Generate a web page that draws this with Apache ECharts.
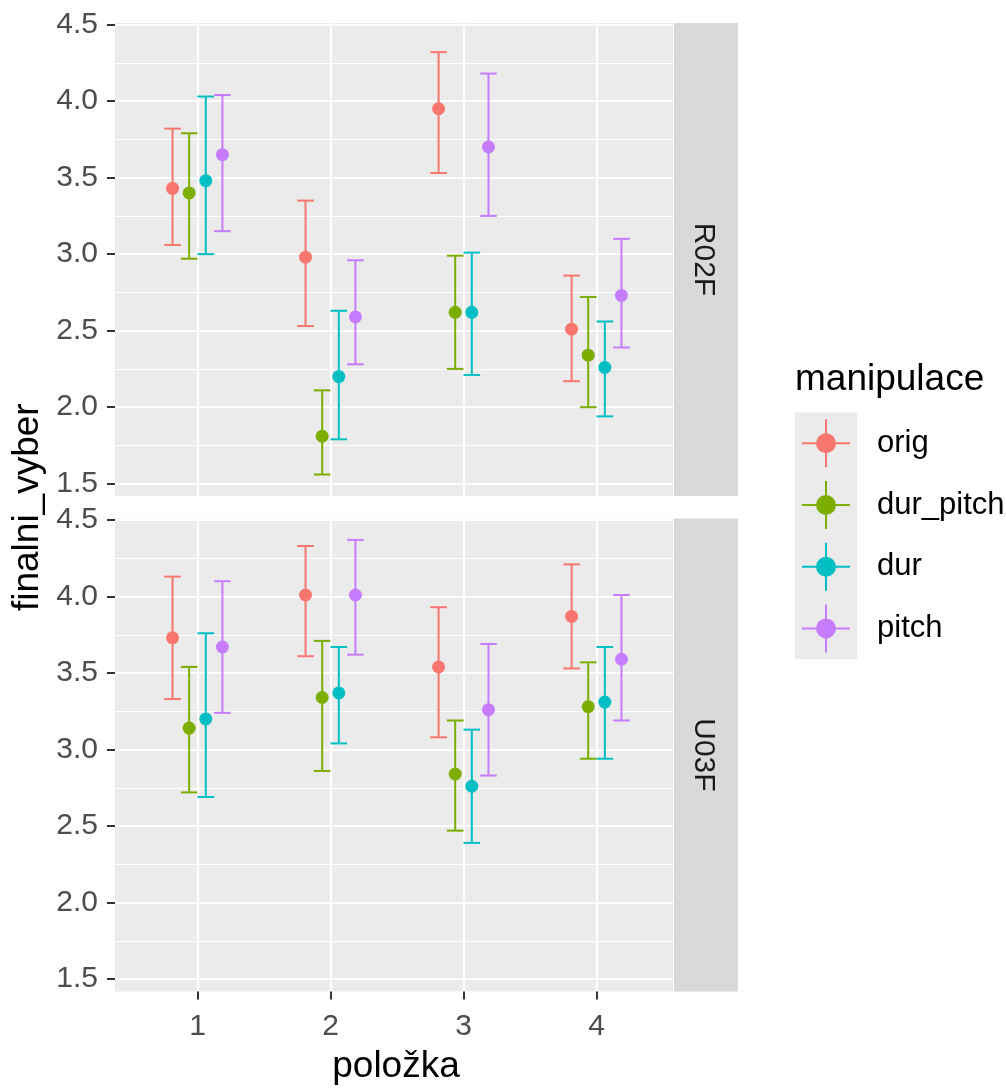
<!DOCTYPE html>
<html>
<head>
<meta charset="utf-8">
<title>finalni_vyber podle položky</title>
<script src="https://cdn.jsdelivr.net/npm/echarts@6/dist/echarts.min.js"></script>
<style>
  html, body { margin: 0; padding: 0; background: #ffffff; }
  #chart { width: 1006px; height: 1088px; }
</style>
</head>
<body>
<div id="chart"></div>
<script>
// ---- data ---------------------------------------------------------------
const categories = [1, 2, 3, 4];
const groups = ['orig', 'dur_pitch', 'dur', 'pitch'];
const facets = ['R02F', 'U03F'];
const yTicks = [1.5, 2.0, 2.5, 3.0, 3.5, 4.0, 4.5];

// rows follow `groups`, columns follow `categories`
const r02fMean = [
  [3.43, 2.98, 3.95, 2.51],
  [3.40, 1.81, 2.62, 2.34],
  [3.48, 2.20, 2.62, 2.26],
  [3.65, 2.59, 3.70, 2.73]
];
const r02fLow = [
  [3.06, 2.53, 3.53, 2.17],
  [2.97, 1.56, 2.25, 2.00],
  [3.00, 1.79, 2.21, 1.94],
  [3.15, 2.28, 3.25, 2.39]
];
const r02fHigh = [
  [3.82, 3.35, 4.32, 2.86],
  [3.79, 2.11, 2.99, 2.72],
  [4.03, 2.63, 3.01, 2.56],
  [4.04, 2.96, 4.18, 3.10]
];

const u03fMean = [
  [3.73, 4.01, 3.54, 3.87],
  [3.14, 3.34, 2.84, 3.28],
  [3.20, 3.37, 2.76, 3.31],
  [3.67, 4.01, 3.26, 3.59]
];
const u03fLow = [
  [3.33, 3.61, 3.08, 3.53],
  [2.72, 2.86, 2.47, 2.94],
  [2.69, 3.04, 2.39, 2.94],
  [3.24, 3.62, 2.83, 3.19]
];
const u03fHigh = [
  [4.13, 4.33, 3.93, 4.21],
  [3.54, 3.71, 3.19, 3.57],
  [3.76, 3.67, 3.13, 3.67],
  [4.10, 4.37, 3.69, 4.01]
];

// ---- styling & layout ------------------------------------------------------
const groupColors = ['#F8766D', '#7CAE00', '#00BFC4', '#C77CFF'];
const FONT = '"Liberation Sans", Arial, Helvetica, sans-serif';
const PANEL_BG = '#EBEBEB';
const STRIP_BG = '#D9D9D9';
const PANEL_LEFT = 115;
const PANEL_WIDTH = 558;
const PANEL_HEIGHT = 473;
const PANEL_TOPS = [23, 518.4];
const STRIP_GAP = 1;
const STRIP_WIDTH = 64;
const DODGE_WIDTH = 0.5;
const CAP_WIDTH = 0.125;
const POINT_RADIUS = 6.5;
const LINE_WIDTH = 2;
const TICK_FONT = 30;
const TITLE_FONT = 37;
const LEGEND_FONT = 31;

const panels = [
  { mean: r02fMean, low: r02fLow, high: r02fHigh },
  { mean: u03fMean, low: u03fLow, high: u03fHigh }
];

// shared y scale with a 5% margin on both sides (fixed scales across facets)
const allLow = panels.flatMap(p => p.low.flat());
const allHigh = panels.flatMap(p => p.high.flat());
const dataMin = Math.min(...allLow);
const dataMax = Math.max(...allHigh);
const pad = (dataMax - dataMin) * 0.05;
const yMin = dataMin - pad;
const yMax = dataMax + pad;

// discrete x scale with some room on both sides of the outer categories
const xMin = categories[0] - 0.62;
const xMax = categories[categories.length - 1] + 0.575;

// point-range mark: vertical bar with caps and a dot at the mean
function renderPointRange(params, api) {
  const x = api.value(0);
  const mid = api.coord([x, api.value(1)]);
  const lo = api.coord([x, api.value(2)]);
  const hi = api.coord([x, api.value(3)]);
  const half = api.size([CAP_WIDTH, 0])[0] / 2;
  const color = api.visual('color');
  const stroke = { stroke: color, lineWidth: LINE_WIDTH, fill: null };
  return {
    type: 'group',
    children: [
      { type: 'line', shape: { x1: hi[0], y1: hi[1], x2: lo[0], y2: lo[1] }, style: stroke },
      { type: 'line', shape: { x1: hi[0] - half, y1: hi[1], x2: hi[0] + half, y2: hi[1] }, style: stroke },
      { type: 'line', shape: { x1: lo[0] - half, y1: lo[1], x2: lo[0] + half, y2: lo[1] }, style: stroke },
      { type: 'circle', shape: { cx: mid[0], cy: mid[1], r: POINT_RADIUS }, style: { fill: color } }
    ]
  };
}

const grids = [];
const xAxes = [];
const yAxes = [];
const series = [];
const graphics = [];

panels.forEach((panel, pi) => {
  const isBottom = pi === panels.length - 1;
  grids.push({
    left: PANEL_LEFT, top: PANEL_TOPS[pi], width: PANEL_WIDTH, height: PANEL_HEIGHT,
    show: true, backgroundColor: PANEL_BG, borderWidth: 0,
    containLabel: false, outerBoundsMode: 'none'
  });
  xAxes.push({
    type: 'value', gridIndex: pi, min: xMin, max: xMax,
    axisLine: { show: false },
    axisTick: {
      show: isBottom, length: 8, customValues: categories,
      lineStyle: { color: '#333333', width: 2 }
    },
    axisLabel: {
      show: isBottom, customValues: categories, margin: 20,
      color: '#4D4D4D', fontSize: TICK_FONT, fontFamily: FONT,
      formatter: v => String(v)
    },
    splitLine: { show: true, lineStyle: { color: '#FFFFFF', width: 2.2 } },
    minorSplitLine: { show: false }
  });
  yAxes.push({
    type: 'value', gridIndex: pi, min: yMin, max: yMax,
    axisLine: { show: false },
    axisTick: {
      show: true, length: 8, customValues: yTicks,
      lineStyle: { color: '#333333', width: 2 }
    },
    axisLabel: {
      show: true, customValues: yTicks, margin: 17,
      color: '#4D4D4D', fontSize: TICK_FONT, fontFamily: FONT,
      formatter: v => v.toFixed(1)
    },
    splitLine: { show: true, lineStyle: { color: '#FFFFFF', width: 2.2 } },
    minorTick: { show: false, splitNumber: 2 },
    minorSplitLine: { show: true, lineStyle: { color: '#FFFFFF', width: 1.2 } }
  });

  groups.forEach((g, gi) => {
    const offset = (gi - (groups.length - 1) / 2) * DODGE_WIDTH / groups.length;
    series.push({
      type: 'custom',
      name: g,
      xAxisIndex: pi,
      yAxisIndex: pi,
      renderItem: renderPointRange,
      itemStyle: { color: groupColors[gi] },
      encode: { x: 0, y: [1, 2, 3] },
      clip: false,
      silent: true,
      data: categories.map((c, ci) => [c + offset, panel.mean[gi][ci], panel.low[gi][ci], panel.high[gi][ci]])
    });
  });

  // facet strip on the right of each panel
  const stripX = PANEL_LEFT + PANEL_WIDTH + STRIP_GAP;
  graphics.push({
    type: 'rect', silent: true,
    shape: { x: stripX, y: PANEL_TOPS[pi], width: STRIP_WIDTH, height: PANEL_HEIGHT },
    style: { fill: STRIP_BG }
  });
  graphics.push({
    type: 'text', silent: true,
    x: stripX + STRIP_WIDTH / 2 - 3, y: PANEL_TOPS[pi] + PANEL_HEIGHT / 2,
    rotation: -Math.PI / 2,
    style: {
      text: facets[pi], fill: '#1A1A1A', font: `${TICK_FONT}px ${FONT}`,
      align: 'center', verticalAlign: 'middle'
    }
  });
});

// axis titles
graphics.push({
  type: 'text', silent: true,
  x: PANEL_LEFT + PANEL_WIDTH / 2 + 2, y: 1067,
  style: { text: 'položka', fill: '#000000', font: `${TITLE_FONT}px ${FONT}`, align: 'center', verticalAlign: 'middle' }
});
graphics.push({
  type: 'text', silent: true,
  x: 28, y: (PANEL_TOPS[0] + PANEL_TOPS[1] + PANEL_HEIGHT) / 2,
  rotation: Math.PI / 2,
  style: { text: 'finalni_vyber', fill: '#000000', font: `${TITLE_FONT}px ${FONT}`, align: 'center', verticalAlign: 'middle' }
});

// legend: title, grey key column, one cross-and-dot key per group
const LEGEND_X = 795;
const KEY_COL_WIDTH = 62;
const KEY_FIRST_Y = 443.3;
const KEY_STEP = 61.7;
const KEY_HALF = 24;
const KEY_DOT = 10;
const LABEL_X = 877;

graphics.push({
  type: 'text', silent: true,
  x: LEGEND_X, y: 380,
  style: { text: 'manipulace', fill: '#000000', font: `${TITLE_FONT}px ${FONT}`, align: 'left', verticalAlign: 'middle' }
});
graphics.push({
  type: 'rect', silent: true,
  shape: {
    x: LEGEND_X,
    y: KEY_FIRST_Y - KEY_STEP / 2,
    width: KEY_COL_WIDTH,
    height: groups.length * KEY_STEP
  },
  style: { fill: PANEL_BG }
});
groups.forEach((g, gi) => {
  const cx = LEGEND_X + KEY_COL_WIDTH / 2;
  const cy = KEY_FIRST_Y + gi * KEY_STEP;
  const stroke = { stroke: groupColors[gi], lineWidth: LINE_WIDTH };
  graphics.push({
    type: 'group', silent: true,
    children: [
      { type: 'line', shape: { x1: cx - KEY_HALF, y1: cy, x2: cx + KEY_HALF, y2: cy }, style: stroke },
      { type: 'line', shape: { x1: cx, y1: cy - KEY_HALF, x2: cx, y2: cy + KEY_HALF }, style: stroke },
      { type: 'circle', shape: { cx: cx, cy: cy, r: KEY_DOT }, style: { fill: groupColors[gi] } }
    ]
  });
  graphics.push({
    type: 'text', silent: true,
    x: LABEL_X, y: cy,
    style: { text: g, fill: '#000000', font: `${LEGEND_FONT}px ${FONT}`, align: 'left', verticalAlign: 'middle' }
  });
});

const option = {
  animation: false,
  backgroundColor: '#FFFFFF',
  textStyle: { fontFamily: FONT },
  grid: grids,
  xAxis: xAxes,
  yAxis: yAxes,
  series: series,
  graphic: { elements: graphics }
};

const chart = echarts.init(document.getElementById('chart'), null, { renderer: 'canvas' });
chart.setOption(option);
</script>
</body>
</html>
